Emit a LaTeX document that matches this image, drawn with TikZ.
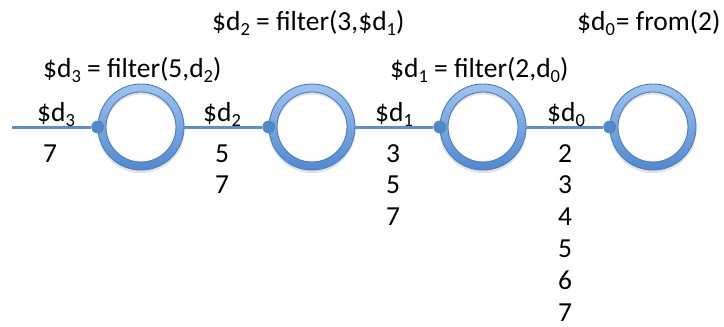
\documentclass[tikz,border=0pt]{standalone}
\usepackage{fontspec}
\setmainfont{Carlito}
\definecolor{ringborder}{HTML}{4A7EBB}
\definecolor{ringtop}{HTML}{9FC3F0}
\definecolor{ringbot}{HTML}{5088D2}
\definecolor{wire}{HTML}{5B8ECF}
\definecolor{dotc}{HTML}{5188C8}
\newcommand\sbs[1]{\raisebox{-0.2em}{\fontsize{18.5}{18.5}\selectfont #1}}
\tikzset{
  ring/.style={circle, minimum size=86pt, inner sep=0pt, draw=none},
  dotnode/.style={circle, fill=dotc, minimum size=13pt, inner sep=0pt},
  wire/.style={draw=wire, line width=3pt},
  lbl/.style={inner sep=0pt, anchor=base west, font=\fontsize{27.5}{33}\selectfont},
  num/.style={inner sep=0pt, anchor=base, font=\fontsize{27.5}{33}\selectfont},
}
\begin{document}
\begin{tikzpicture}[x=1pt,y=-1pt]
\useasboundingbox (0,0) rectangle (724,327);
% rings
\foreach \n/\x in {r1/141, r2/312, r3/483, r4/653}{
  \node[ring] (\n) at (\x,127) {};
  \fill[black, opacity=0.12, even odd rule] ([yshift=-2.5pt]\n.center) circle[radius=43.5pt] ([yshift=-2.5pt]\n.center) circle[radius=35pt];
  \shade[even odd rule, top color=ringtop, bottom color=ringbot] (\n.center) circle[radius=43pt] (\n.center) circle[radius=35pt];
  \draw[ringborder, line width=0.9pt] (\n.center) circle[radius=43pt] (\n.center) circle[radius=35pt];
}
% dots
\node[dotnode] (p1) at (r1.west) {};
\node[dotnode] (p2) at (r2.west) {};
\node[dotnode] (p3) at (r3.west) {};
\node[dotnode] (p4) at (r4.west) {};
% wires
\coordinate (start) at (12,127);
\draw[wire] (start) -- (p1.west);
\draw[wire] (r1.east) -- (p2.west);
\draw[wire] (r2.east) -- (p3.west);
\draw[wire] (r3.east) -- (p4.west);
% top labels
\node[lbl] (f2) at (212,30) {\$d\sbs{2} = filter(3,\$d\sbs{1})};
\node[lbl] (f0) at (577,30) {\$d\sbs{0}\kern1pt= from(2)};
\node[lbl] (f3) at (43,77) {\$d\sbs{3} = filter(5,d\sbs{2})};
\node[lbl] (f1) at (390,77) {\$d\sbs{1} = filter(2,d\sbs{0})};
% stream labels
\node[lbl] (l3) at (37,121) {\$d\sbs{3}};
\node[lbl] (l2) at (203,121) {\$d\sbs{2}};
\node[lbl] (l1) at (375,121) {\$d\sbs{1}};
\node[lbl] (l0) at (547,121) {\$d\sbs{0}};
% values
\node[num] (a1) at (50,162) {7};
\node[num] (b1) at (222,162) {5};
\node[num] (b2) at (222,193.8) {7};
\node[num] (c1) at (393,162) {3};
\node[num] (c2) at (393,193.8) {5};
\node[num] (c3) at (393,225.6) {7};
\node[num] (d1) at (565,162) {2};
\node[num] (d2) at (565,193.8) {3};
\node[num] (d3) at (565,225.6) {4};
\node[num] (d4) at (565,257.4) {5};
\node[num] (d5) at (565,289.2) {6};
\node[num] (d6) at (565,321) {7};
\end{tikzpicture}
\end{document}
